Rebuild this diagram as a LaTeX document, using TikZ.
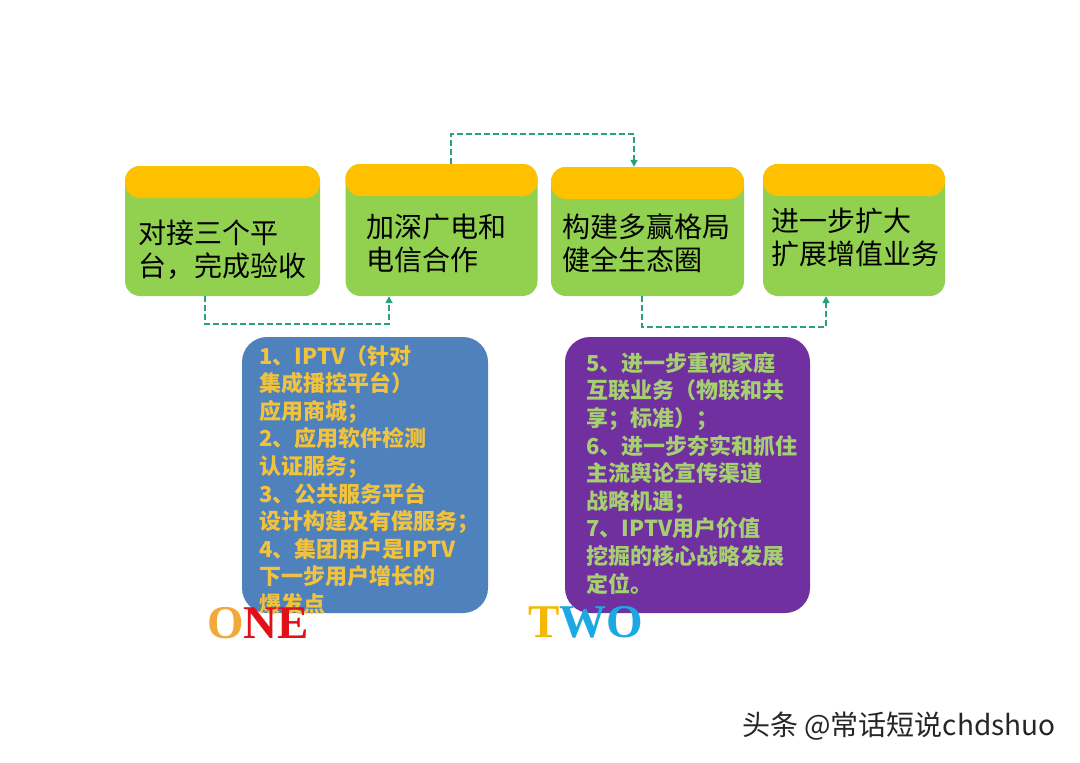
\documentclass[tikz,border=0pt]{standalone}
\usepackage{fontspec}
\newfontfamily\cjk{Noto Sans CJK SC}
\newfontfamily\serifbold{Liberation Serif}[BoldFont={Liberation Serif Bold}]
\usetikzlibrary{arrows.meta}
\definecolor{hdr}{HTML}{FFC000}
\definecolor{bodygreen}{HTML}{92D050}
\definecolor{boxblue}{HTML}{4F81BD}
\definecolor{boxpurple}{HTML}{7030A0}
\definecolor{txtyellow}{HTML}{F0C23E}
\definecolor{txtgreen}{HTML}{A6CF72}
\definecolor{conncol}{HTML}{26A17B}
\definecolor{oneorange}{HTML}{F2A93B}
\definecolor{onered}{HTML}{E3101A}
\definecolor{twoyellow}{HTML}{F5B800}
\definecolor{twoblue}{HTML}{1BA8E3}
\tikzset{
  topbox/.style={draw=none, fill=bodygreen, rounded corners=15pt, inner sep=0pt,
    path picture={\fill[hdr] (path picture bounding box.north west) rectangle ([yshift=-32pt]path picture bounding box.north east);}},
  toptext/.style={anchor=west, inner sep=0pt, align=left, text=black, font=\cjk\fontsize{28}{33}\selectfont},
  bigbox/.style={draw=none, rounded corners=25pt, inner sep=0pt},
  listtext/.style={anchor=north west, inner sep=0pt, align=left, font=\cjk\bfseries\fontsize{22}{27.6}\selectfont},
  conn/.style={draw=conncol, line width=1.8pt, dash pattern=on 6pt off 3pt, -{Triangle[width=7pt,length=7pt]}},
  bigword/.style={anchor=base west, inner sep=0pt, font=\serifbold\bfseries\fontsize{47}{47}\selectfont},
}
\begin{document}
\begin{tikzpicture}[x=1pt,y=-1pt]
\useasboundingbox (0,0) rectangle (1080,763);
% top boxes
\node[topbox, minimum width=195pt, minimum height=130pt] (b1) at (222.5,231) {};
\node[topbox, minimum width=192pt, minimum height=132pt] (b2) at (441.5,230) {};
\node[topbox, minimum width=193pt, minimum height=129pt] (b3) at (647.5,231.5) {};
\node[topbox, minimum width=182pt, minimum height=132pt] (b4) at (854,230) {};
\node[toptext] (t1) at (138,250) {对接三个平\\台，完成验收};
\node[toptext] (t2) at (366,243.5) {加深广电和\\电信合作};
\node[toptext] (t3) at (562,243.5) {构建多赢格局\\健全生态圈};
\node[toptext] (t4) at (771,237.5) {进一步扩大\\扩展增值业务};
% connectors
\draw[conn] ([xshift=-17.5pt]b1.south) -- ++(0,28) -| ([xshift=-52.5pt]b2.south);
\draw[conn] ([xshift=9.5pt]b2.north) -- ++(0,-30) -| ([xshift=-13.5pt]b3.north);
\draw[conn] ([xshift=-5.5pt]b3.south) -- ++(0,31) -| ([xshift=-28pt]b4.south);
% bottom boxes
\node[bigbox, fill=boxblue, minimum width=246pt, minimum height=276pt] (blue) at (365,475) {};
\node[bigbox, fill=boxpurple, minimum width=245pt, minimum height=276pt] (purple) at (687.5,475) {};
\node[listtext, text=txtyellow] (l1) at (259,345) {1、IPTV（针对\\集成播控平台）\\应用商城；\\2、应用软件检测\\认证服务；\\3、公共服务平台\\设计构建及有偿服务；\\4、集团用户是IPTV\\下一步用户增长的\\爆发点};
\node[listtext, text=txtgreen] (l2) at (586,352) {5、进一步重视家庭\\互联业务（物联和共\\享；标准）；\\6、进一步夯实和抓住\\主流舆论宣传渠道\\战略机遇；\\7、IPTV用户价值\\挖掘的核心战略发展\\定位。};
% ONE / TWO
\node[bigword] (one) at (207,638) {\textcolor{oneorange}{O}\textcolor{onered}{NE}};
\node[bigword] (two) at (528,637) {\textcolor{twoyellow}{T}\textcolor{twoblue}{WO}};
% watermark
\node[anchor=west, inner sep=0pt, font=\cjk\fontsize{28}{28}\selectfont, text=black!85] (wm) at (742,726) {头条 @常话短说chdshuo};
\end{tikzpicture}
\end{document}
